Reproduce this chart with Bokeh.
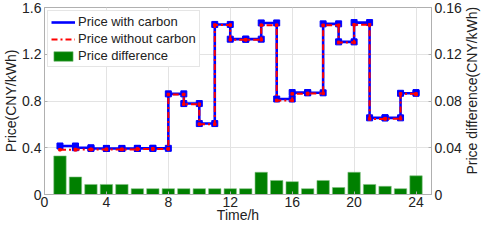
import math
from bokeh.plotting import figure
from bokeh.layouts import row
from bokeh.models import Range1d, LinearAxis, FixedTicker, Legend, LegendItem
from bokeh.core.properties import value
from bokeh.embed import file_html
from bokeh.resources import INLINE

hours = list(range(1, 25))
price_carbon = [0.415, 0.400, 0.394, 0.394, 0.394, 0.395, 0.395,
                0.861, 0.778, 0.607, 1.455, 1.329, 1.329, 1.468, 0.817,
                0.872, 0.870, 1.460, 1.306, 1.471, 0.656, 0.656, 0.866, 0.872]
price_no_carbon = [0.383, 0.385, 0.386, 0.386, 0.386, 0.390, 0.390,
                   0.856, 0.773, 0.602, 1.450, 1.324, 1.324, 1.449, 0.805,
                   0.861, 0.865, 1.448, 1.300, 1.452, 0.647, 0.649, 0.861, 0.856]
price_diff = [0.033, 0.015, 0.0086, 0.0086, 0.0086, 0.005, 0.005, 0.005,
              0.005, 0.005, 0.005, 0.005, 0.005, 0.019, 0.012, 0.011,
              0.005, 0.012, 0.006, 0.019, 0.0086, 0.007, 0.005, 0.016]
left_ticks = [0, 0.4, 0.8, 1.2, 1.6]
left_labels = ["0", "0.4", "0.8", "1.2", "1.6"]
right_ticks = [0, 0.04, 0.08, 0.12, 0.16]
right_labels = ["0", "0.04", "0.08", "0.12", "0.16"]
x_ticks = [0, 4, 8, 12, 16, 20, 24]
x_max = 25
right_title = "Price difference(CNY/kWh)"


def stairs(x, y):
    xs, ys = [x[0]], [y[0]]
    for i in range(1, len(x)):
        xs += [x[i], x[i]]
        ys += [y[i - 1], y[i]]
    return xs, ys


FONT = "Liberation Sans"
GRID = "#e3e3e3"
AX = "#b0b0b0"
TXT = "#222222"
H = 225
TITLE_W = 18

p = figure(width=482 - TITLE_W, height=H, output_backend="svg", toolbar_location=None,
           x_range=Range1d(0, x_max), y_range=Range1d(0, 1.6),
           min_border_left=0, min_border_right=0, min_border_top=7, min_border_bottom=0)
p.extra_y_ranges = {"diff": Range1d(0, 0.16)}

bars = p.vbar(x=hours, top=price_diff, width=0.8, bottom=0, y_range_name="diff",
              fill_color="#008000", line_color="#7fbf7f", line_width=0.6)

bx, by = stairs(hours, price_carbon)
rx, ry = stairs(hours, price_no_carbon)
blue = p.line(bx, by, line_color="#0000ff", line_width=2.6)
p.scatter(bx, by, marker="square", size=6, fill_color="#0000ff", line_color="#0000ff")
red = p.line(rx, ry, line_color="#ff0000", line_width=2, line_dash="6 3 2 3")
p.scatter(rx, ry, marker="square", size=2.5, fill_color="#ff0000", line_color="#ff0000")

p.xaxis.ticker = FixedTicker(ticks=x_ticks)
p.yaxis.ticker = FixedTicker(ticks=left_ticks)
p.yaxis.major_label_overrides = dict(zip(left_ticks, left_labels))
p.xaxis.axis_label = "Time/h"
p.yaxis.axis_label = "Price(CNY/kWh)"

right = LinearAxis(y_range_name="diff", ticker=FixedTicker(ticks=right_ticks))
right.major_label_overrides = dict(zip(right_ticks, right_labels))
p.add_layout(right, "right")

for ax in [p.xaxis[0], p.yaxis[0], right]:
    ax.axis_line_color = AX
    ax.major_tick_line_color = AX
    ax.major_tick_in = 3
    ax.major_tick_out = 0
    ax.minor_tick_line_color = None
    ax.major_label_text_font = FONT
    ax.major_label_text_font_size = "14px"
    ax.major_label_text_color = TXT
    ax.axis_label_text_font = FONT
    ax.axis_label_text_font_size = "14px"
    ax.axis_label_text_font_style = "normal"
    ax.axis_label_text_color = TXT
    ax.major_label_standoff = 3
    ax.axis_label_standoff = 0
p.xaxis.major_label_standoff = 2
p.xaxis.axis_label_standoff = -3

p.xgrid.ticker = FixedTicker(ticks=x_ticks)
p.ygrid.ticker = FixedTicker(ticks=left_ticks)
p.grid.grid_line_color = GRID
p.outline_line_color = AX

legend = Legend(items=[LegendItem(label="Price with carbon", renderers=[blue]),
                       LegendItem(label="Price without carbon", renderers=[red]),
                       LegendItem(label="Price difference", renderers=[bars])],
                location="top_left")
legend.label_text_font = FONT
legend.label_text_font_size = "13px"
legend.label_text_color = TXT
legend.glyph_width = 24
legend.glyph_height = 12
legend.label_height = 12
legend.spacing = 2
legend.padding = 3
legend.margin = 3
legend.border_line_color = "#cccccc"
legend.label_standoff = 3
p.add_layout(legend)

# narrow strip holding the right-hand axis title, reading bottom to top
t = figure(width=TITLE_W, height=H, output_backend="svg", toolbar_location=None,
           x_range=Range1d(0, 1), y_range=Range1d(0, H),
           x_axis_location=None, y_axis_location=None,
           min_border_left=0, min_border_right=0, min_border_top=0, min_border_bottom=0)
t.grid.visible = False
t.outline_line_color = None
t.text(x=[0.4], y=[H - 100], text=[right_title], angle=math.pi / 2,
       text_align="center", text_baseline="middle", text_font=value(FONT),
       text_font_size="14px", text_color=TXT)

open("out.html", "w").write(file_html(row(p, t), INLINE))
